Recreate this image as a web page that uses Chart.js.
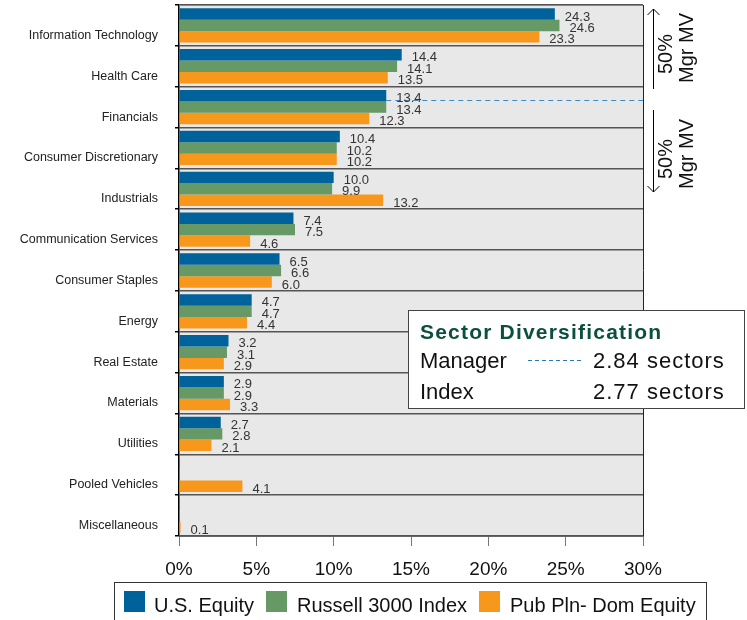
<!DOCTYPE html>
<html lang="en">
<head>
<meta charset="UTF-8">
<title>Sector Allocation</title>
<script src="https://cdn.jsdelivr.net/npm/chart.js@4.4.1/dist/chart.umd.min.js"></script>
<style>
  body { margin: 0; background: #fff; }
  canvas { display: block; }
</style>
</head>
<body>
<canvas id="myChart" width="747" height="620"></canvas>
<script>
const sectors = ['Information Technology', 'Health Care', 'Financials', 'Consumer Discretionary',
  'Industrials', 'Communication Services', 'Consumer Staples', 'Energy', 'Real Estate',
  'Materials', 'Utilities', 'Pooled Vehicles', 'Miscellaneous']
const usEquity = [24.3, 14.4, 13.4, 10.4, 10.0, 7.4, 6.5, 4.7, 3.2, 2.9, 2.7, 0.05, 0.05]
const russell3000 = [24.6, 14.1, 13.4, 10.2, 9.9, 7.5, 6.6, 4.7, 3.1, 2.9, 2.8, 0, 0]
const pubPlnDom = [23.3, 13.5, 12.3, 10.2, 13.2, 4.6, 6.0, 4.4, 2.9, 3.3, 2.1, 4.1, 0.1]
const seriesNames = ['U.S. Equity', 'Russell 3000 Index', 'Pub Pln- Dom Equity']
const seriesColors = ['#00629b', '#669966', '#f7981d']
const xTicks = [0, 5, 10, 15, 20, 25, 30]
const managerSectors = '2.84 sectors'
const indexSectors = '2.77 sectors'

Chart.defaults.font.family = "'Liberation Sans', Arial, sans-serif"

// grey plot background
const plotBackground = {
  id: 'plotBackground',
  beforeDraw(chart) {
    const { ctx, chartArea: a } = chart
    ctx.save()
    ctx.fillStyle = '#e8e8e8'
    ctx.fillRect(a.left, a.top, a.width, a.height)
    ctx.restore()
  }
}

// value labels + manager dashed line
const valueLabels = {
  id: 'valueLabels',
  afterDatasetsDraw(chart) {
    const { ctx, chartArea: a } = chart
    const x = chart.scales.x
    ctx.save()
    // dashed 50% line at Financials
    const fin = chart.getDatasetMeta(0).data[2]
    const dy = Math.round(fin.y + fin.height / 2 - 1) + 0.5
    ctx.strokeStyle = '#3d8ac4'
    ctx.lineWidth = 1
    ctx.setLineDash([5, 4])
    ctx.beginPath()
    ctx.moveTo(x.getPixelForValue(usEquity[2]), dy)
    ctx.lineTo(a.right, dy)
    ctx.stroke()
    ctx.setLineDash([])

    ctx.font = "13px 'Liberation Sans', Arial, sans-serif"
    ctx.fillStyle = '#333'
    ctx.textBaseline = 'middle'
    ctx.textAlign = 'left'
    chart.data.datasets.forEach((ds, i) => {
      chart.getDatasetMeta(i).data.forEach((bar, j) => {
        const v = ds.data[j]
        if (v < 0.1) return
        ctx.fillText(v.toFixed(1), bar.x + 10, bar.y + 3)
      })
    })
    ctx.restore()
  }
}

// border, arrows, diversification box, legend
const extras = {
  id: 'extras',
  afterDraw(chart) {
    const { ctx, chartArea: a } = chart
    ctx.save()
    ctx.lineWidth = 1
    ctx.strokeStyle = '#888'
    ctx.beginPath()
    ctx.moveTo(a.left, a.top + 0.5)
    ctx.lineTo(a.right, a.top + 0.5)
    ctx.stroke()
    ctx.strokeStyle = '#222'
    ctx.beginPath()
    ctx.moveTo(a.right + 0.5, a.top)
    ctx.lineTo(a.right + 0.5, a.bottom)
    ctx.stroke()

    // 50% Mgr MV arrows
    const ax = a.right + 10.5
    ctx.strokeStyle = '#000'
    ctx.beginPath()
    ctx.moveTo(ax, 9); ctx.lineTo(ax, 89)
    ctx.moveTo(ax - 6, 15); ctx.lineTo(ax, 9); ctx.lineTo(ax + 6, 15)
    ctx.moveTo(ax, 110); ctx.lineTo(ax, 192)
    ctx.moveTo(ax - 6, 186); ctx.lineTo(ax, 192); ctx.lineTo(ax + 6, 186)
    ctx.stroke()

    ctx.fillStyle = '#111'
    ctx.font = "20px 'Liberation Sans', Arial, sans-serif"
    ctx.textAlign = 'center'
    ctx.textBaseline = 'middle'
    const vtext = (t, x, y) => {
      ctx.save()
      ctx.translate(x, y)
      ctx.rotate(-Math.PI / 2)
      ctx.fillText(t, 0, 0)
      ctx.restore()
    }
    vtext('50%', 666, 54)
    vtext('Mgr MV', 687, 48)
    vtext('50%', 666, 159)
    vtext('Mgr MV', 687, 154)

    // Sector Diversification box
    ctx.fillStyle = '#fff'
    ctx.fillRect(408.5, 310.5, 336, 98)
    ctx.strokeStyle = '#444'
    ctx.strokeRect(408.5, 310.5, 336, 98)
    ctx.textAlign = 'left'
    ctx.textBaseline = 'alphabetic'
    ctx.fillStyle = '#0b4f3f'
    ctx.font = "bold 21px 'Liberation Sans', Arial, sans-serif"
    ctx.letterSpacing = '1.2px'
    ctx.fillText('Sector Diversification', 420, 339)
    ctx.letterSpacing = '0px'
    ctx.fillStyle = '#111'
    ctx.font = "22px 'Liberation Sans', Arial, sans-serif"
    ctx.fillText('Manager', 420, 368)
    ctx.fillText('Index', 420, 399)
    ctx.letterSpacing = '1px'
    ctx.fillText(managerSectors, 593, 368)
    ctx.fillText(indexSectors, 593, 399)
    ctx.letterSpacing = '0px'
    ctx.strokeStyle = '#2a7ab8'
    ctx.setLineDash([4, 3])
    ctx.beginPath()
    ctx.moveTo(528, 360.5); ctx.lineTo(582, 360.5)
    ctx.stroke()
    ctx.setLineDash([])

    // legend
    ctx.fillStyle = '#fff'
    ctx.fillRect(114.5, 582.5, 592, 50)
    ctx.strokeStyle = '#333'
    ctx.strokeRect(114.5, 582.5, 592, 50)
    const sq = [124, 266, 479]
    const tx = [154, 297, 510]
    ctx.font = "20px 'Liberation Sans', Arial, sans-serif"
    seriesNames.forEach((n, i) => {
      ctx.fillStyle = seriesColors[i]
      ctx.fillRect(sq[i], 591, 21, 21)
      ctx.fillStyle = '#111'
      ctx.fillText(n, tx[i], 612)
    })
    ctx.restore()
  }
}

const ctx = document.getElementById('myChart').getContext('2d')
const myChart = new Chart(ctx, {
  type: 'bar',
  data: {
    labels: sectors,
    datasets: [
      { label: seriesNames[0], data: usEquity, backgroundColor: seriesColors[0] },
      { label: seriesNames[1], data: russell3000, backgroundColor: seriesColors[1] },
      { label: seriesNames[2], data: pubPlnDom, backgroundColor: seriesColors[2] }
    ]
  },
  options: {
    indexAxis: 'y',
    responsive: false,
    animation: false,
    categoryPercentage: 0.84,
    barPercentage: 1.0,
    layout: { padding: { top: 5, right: 104, left: 0, bottom: 0 } },
    plugins: { legend: { display: false }, tooltip: { enabled: false } },
    scales: {
      x: {
        min: 0,
        max: 30,
        afterBuildTicks(scale) { scale.ticks = xTicks.map(v => ({ value: v })) },
        ticks: { callback: v => v + '%', font: { size: 19 }, color: '#111', padding: 12, maxRotation: 0 },
        grid: { drawOnChartArea: false, tickLength: 10, color: '#777' },
        border: { color: '#666' },
        afterFit(scale) {
          scale.height = 84
          scale.paddingLeft = 0
          scale.paddingRight = 0
        }
      },
      y: {
        grid: { offset: true, color: '#555', lineWidth: 1.5, tickLength: 4, tickColor: '#000' },
        border: { color: '#000', width: 1.5 },
        ticks: { font: { size: 12.5 }, color: '#222', padding: 17, labelOffset: 10 },
        afterFit(scale) {
          scale.width = 179
          scale.paddingTop = 0
          scale.paddingBottom = 0
        }
      }
    }
  },
  plugins: [plotBackground, valueLabels, extras]
})
</script>
</body>
</html>
